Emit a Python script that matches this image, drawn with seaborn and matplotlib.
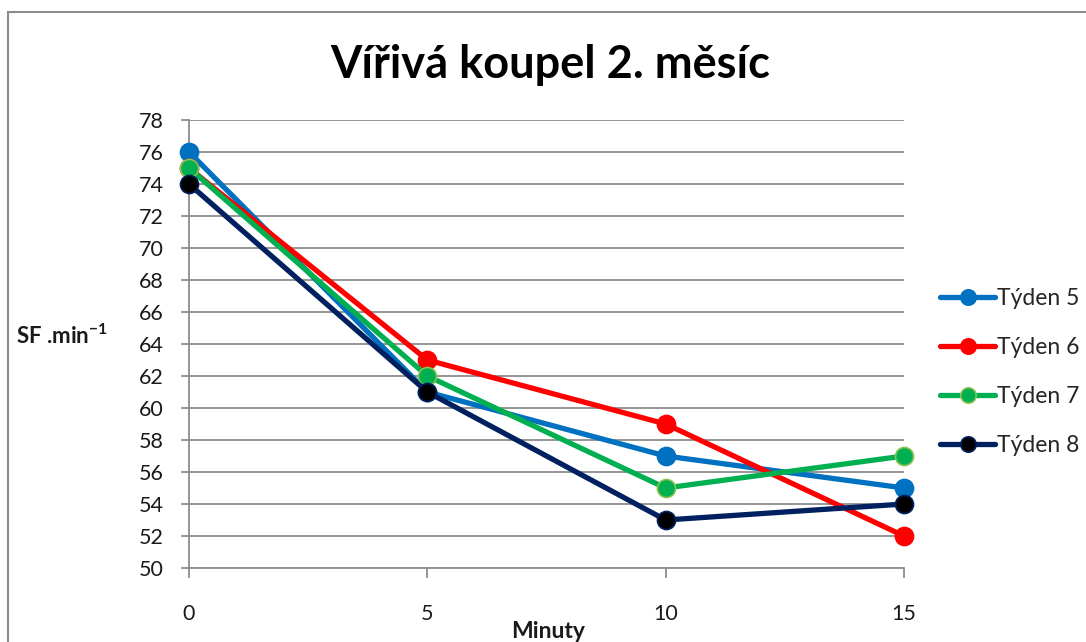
import matplotlib
matplotlib.use("Agg")
import matplotlib.pyplot as plt
from matplotlib.patches import Rectangle
import seaborn as sns
import pandas as pd

# Heart rate during whirlpool bath sessions, second month
minutes = [0, 5, 10, 15]
tyden5 = [76, 61, 57, 55]
tyden6 = [75, 63, 59, 52]
tyden7 = [75, 62, 55, 57]
tyden8 = [74, 61, 53, 54]
series_names = ["Týden 5", "Týden 6", "Týden 7", "Týden 8"]
y_ticks = list(range(50, 79, 2))
x_ticks = [0, 5, 10, 15]

line_colors = ["#0070C0", "#FF0000", "#00B050", "#002060"]
face_colors = ["#0070C0", "#FF0000", "#00B050", "#000000"]
edge_colors = ["#0070C0", "#FF0000", "#8CC152", "#002060"]

sns.set_theme(style="white")
plt.rcParams["font.family"] = ["Lato", "DejaVu Sans"]
plt.rcParams["mathtext.fontset"] = "custom"
plt.rcParams["mathtext.rm"] = "Lato:bold"
plt.rcParams["mathtext.bf"] = "Lato:bold"

W, H = 1086, 642
fig = plt.figure(figsize=(W / 100, H / 100), dpi=100)
fig.patch.set_facecolor("white")

# outer chart frame (runs off the right and bottom edges)
fig.add_artist(Rectangle((8 / W, -0.1), 1.2, (H - 12) / H + 0.1,
                         transform=fig.transFigure, fill=False,
                         edgecolor="#8c8c8c", linewidth=1.5))

ax = fig.add_axes([189 / W, 1 - 568 / H, (904 - 189) / W, (568 - 120) / H])

frames = []
for name, vals in zip(series_names, [tyden5, tyden6, tyden7, tyden8]):
    frames.append(pd.DataFrame({"Minuty": minutes, "SF": vals, "serie": name}))
df = pd.concat(frames, ignore_index=True)

handles = []
for name, lc, fc, ec in zip(series_names, line_colors, face_colors, edge_colors):
    sub = df[df["serie"] == name]
    sns.lineplot(data=sub, x="Minuty", y="SF", ax=ax, color=lc, linewidth=3.8,
                 marker="o", markersize=13, markerfacecolor=fc,
                 markeredgecolor=ec, markeredgewidth=1.2, legend=False,
                 clip_on=False, zorder=3)
    handles.append(ax.lines[-1])

ax.set_xlim(0, 15)
ax.set_ylim(50, 78)
ax.set_xticks(x_ticks)
ax.set_yticks(y_ticks)
ax.set_xticklabels([str(v) for v in x_ticks])
ax.set_yticklabels([str(v) for v in y_ticks])

grid_c = "#8c8c8c"
ax.yaxis.grid(True, color=grid_c, linewidth=1.3)
ax.xaxis.grid(False)
for s in ["top", "right"]:
    ax.spines[s].set_visible(False)
for s in ["left", "bottom"]:
    ax.spines[s].set_color(grid_c)
    ax.spines[s].set_linewidth(1.3)
ax.tick_params(axis="y", which="major", direction="out", length=6,
               width=1.3, color=grid_c, pad=12, labelsize=15.5, labelcolor="#1a1a1a")
ax.tick_params(axis="x", which="major", direction="out", length=7,
               width=1.3, color=grid_c, pad=19, labelsize=15.5, labelcolor="#1a1a1a")
ax.tick_params(left=True, bottom=True)
ax.set_xlabel("")
ax.set_ylabel("")

fig.text(548 / W, 1 - 631 / H, "Minuty", ha="center", va="center",
         fontsize=16.5, fontweight="bold", color="#1a1a1a")
fig.text(16 / W, 1 - 336 / H, "SF .min$^{\\mathbf{-1}}$", ha="left", va="center",
         fontsize=16, fontweight="bold", color="#1a1a1a")
fig.text(550 / W, 1 - 78 / H, "Vířivá koupel 2. měsíc", ha="center", va="baseline",
         fontsize=32.5, fontweight="bold", color="#000000")

leg = fig.legend(handles, series_names, loc="upper left",
                 bbox_to_anchor=(940 / W, 1 - 288 / H), frameon=False,
                 fontsize=16.5, handlelength=2.4, handletextpad=0.1,
                 labelspacing=1.22, borderaxespad=0, borderpad=0,
                 markerscale=0.85)

fig.savefig("out.png", dpi=100)
